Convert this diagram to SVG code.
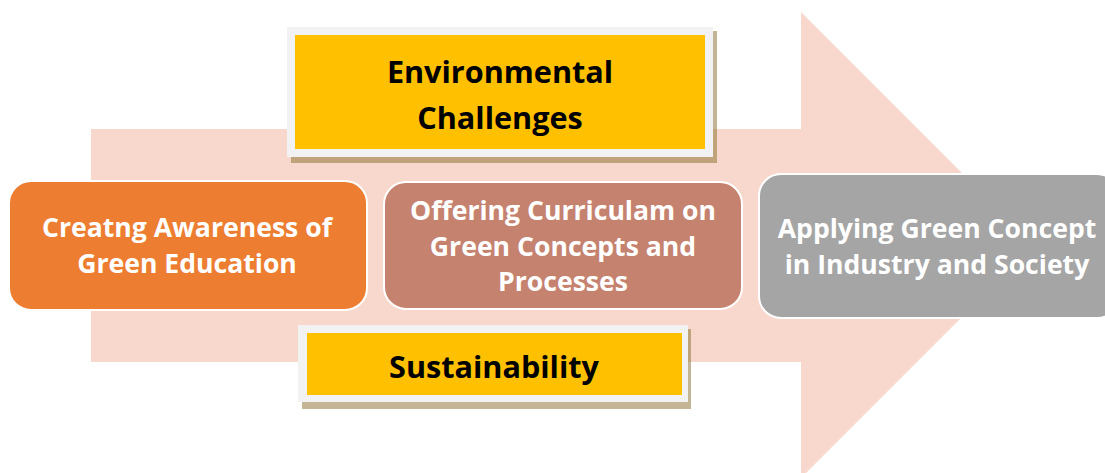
<svg xmlns="http://www.w3.org/2000/svg" width="1105" height="473" viewBox="0 0 1105 473">
<style>
.t{font-family:"Open Sans","Liberation Sans",sans-serif;font-weight:bold;text-anchor:middle;dominant-baseline:central}
.w{fill:#ffffff;font-size:26.6px}
.k{fill:#000000;font-size:30.6px}
.frame{fill:#f2f2f2}
.yel{fill:#ffc000}
.shadow{fill:#8a6d2a;fill-opacity:0.5}
.node{stroke:#ffffff;stroke-width:2}
</style>
<rect width="1105" height="473" fill="#ffffff"/>
<g id="background-arrow">
<polygon points="91,129 801,129 801,12 1034,245 801,478 801,362 91,362" fill="#f8d8cd"/>
</g>
<g id="connectors"></g>
<g id="environmental-challenges">
<rect class="shadow" x="291" y="31" width="426" height="132"/>
<rect class="frame" x="287" y="27" width="426" height="130"/>
<rect class="yel" x="295" y="35" width="410" height="114"/>
<text class="t k" x="500" y="71">Environmental</text>
<text class="t k" x="500" y="117">Challenges</text>
</g>
<g id="creating-awareness">
<rect class="node" x="9" y="181" width="358" height="129" rx="22" fill="#ed7d31"/>
<text class="t w" x="187" y="227">Creatng Awareness of</text>
<text class="t w" x="187" y="263">Green Education</text>
</g>
<g id="offering-curriculum">
<rect class="node" x="384" y="182" width="358" height="127" rx="22" fill="#c5826f"/>
<text class="t w" x="563" y="210">Offering Curriculam on</text>
<text class="t w" x="563" y="246">Green Concepts and</text>
<text class="t w" x="563" y="281">Processes</text>
</g>
<g id="applying-green-concept">
<rect class="node" x="759" y="174" width="360" height="144" rx="22" fill="#a5a5a5"/>
<text class="t w" x="937" y="228">Applying Green Concept</text>
<text class="t w" x="937" y="264">in Industry and Society</text>
</g>
<g id="sustainability">
<rect class="shadow" x="302" y="329" width="389" height="80"/>
<rect class="frame" x="298" y="325" width="390" height="77"/>
<rect class="yel" x="307" y="333" width="375" height="62"/>
<text class="t k" x="494" y="366">Sustainability</text>
</g>
</svg>
